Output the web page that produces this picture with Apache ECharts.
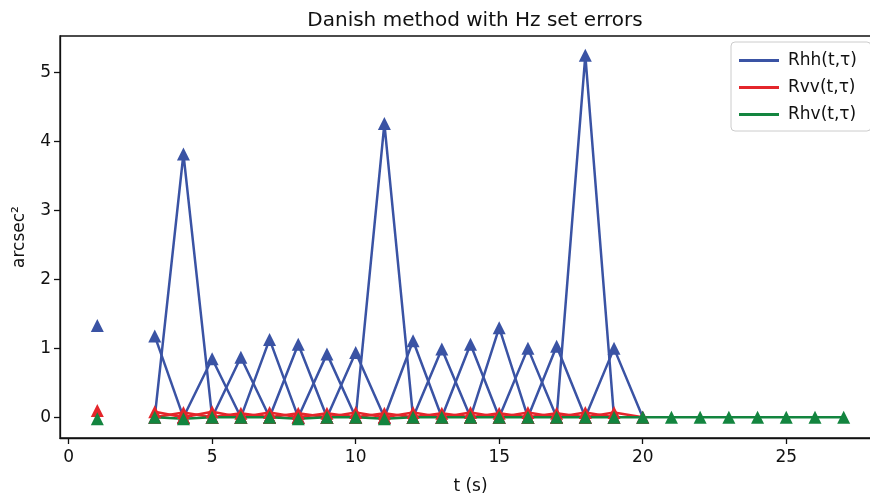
<!DOCTYPE html>
<html>
<head>
<meta charset="utf-8">
<script src="https://cdn.jsdelivr.net/npm/echarts@6/dist/echarts.min.js"></script>
<style>
  html, body { margin: 0; padding: 0; background: #fff; overflow: hidden; }
  /* the original figure is cropped on the right, so the canvas runs past the window */
  #chart { width: 900px; height: 500px; }
</style>
</head>
<body>
<div id="chart"></div>
<script>
// isolated point at t = 1
const loneT = 1;
const loneHH = 1.33;
const loneVV = 0.10;
const loneHV = -0.02;

// spikes: value at t, zero at t-1 and t+1 (the first one has no leading edge)
const peakT = [3, 4, 5, 6, 7, 8, 9, 10, 11, 12, 13, 14, 15, 16, 17, 18, 19];
const rhhPeak = [1.18, 3.82, 0.85, 0.87, 1.13, 1.06, 0.92, 0.94, 4.26, 1.11, 0.99, 1.06, 1.30, 1.00, 1.03, 5.25, 1.00];
const rvvPeak = [0.08, 0.07, 0.08, 0.06, 0.07, 0.06, 0.06, 0.07, 0.06, 0.07, 0.06, 0.07, 0.06, 0.07, 0.06, 0.07, 0.07];

// cross term, continuous line
const hvT = [3, 4, 5, 6, 7, 8, 9, 10, 11, 12, 13, 14, 15, 16, 17, 18, 19, 20, 21, 22, 23, 24, 25, 26, 27];
const rhvVals = [0, -0.02, 0, 0, 0, -0.02, 0, 0, -0.02, 0, 0, 0, 0, 0, 0, 0, 0, 0, 0, 0, 0, 0, 0, 0, 0];

const xTicks = [0, 5, 10, 15, 20, 25];
const yTicks = [0, 1, 2, 3, 4, 5];

const BLUE = '#3a53a4';
const RED = '#e4262b';
const GREEN = '#13853f';
const FONT = 'DejaVu Sans';

function lineSeries(name, color, data) {
  return {
    name: name,
    type: 'line',
    data: data,
    symbol: 'triangle',
    symbolSize: 13,
    showSymbol: true,
    lineStyle: { color: color, width: 2.5 },
    itemStyle: { color: color },
    emphasis: { disabled: true },
    animation: false
  };
}

function spikes(name, color, vals) {
  let out = [];
  for (let i = 0; i < peakT.length; i++) {
    let t = peakT[i];
    let pts = [];
    if (i > 0) pts.push([t - 1, 0]);
    pts.push([t, vals[i]]);
    pts.push([t + 1, 0]);
    out.push(lineSeries(name, color, pts));
  }
  return out;
}

const HH = 'Rhh(t,τ)';
const VV = 'Rvv(t,τ)';
const HV = 'Rhv(t,τ)';

let series = [];
series.push(lineSeries(HH, BLUE, [[loneT, loneHH]]));
series = series.concat(spikes(HH, BLUE, rhhPeak));
series.push(lineSeries(VV, RED, [[loneT, loneVV]]));
series = series.concat(spikes(VV, RED, rvvPeak));
series.push(lineSeries(HV, GREEN, [[loneT, loneHV]]));
series.push(lineSeries(HV, GREEN, hvT.map((t, i) => [t, rhvVals[i]])));

let chart = echarts.init(document.getElementById('chart'), null, { renderer: 'canvas' });

let option = {
  animation: false,
  textStyle: { fontFamily: FONT },
  title: {
    text: 'Danish method with Hz set errors',
    left: 470,
    top: 6,
    textAlign: 'center',
    textStyle: { fontFamily: FONT, fontSize: 20, fontWeight: 'normal', color: '#111' }
  },
  legend: {
    data: [HH, VV, HV],
    orient: 'vertical',
    left: 731,
    top: 42,
    padding: [10, 14, 8, 8],
    itemGap: 10,
    itemWidth: 40,
    itemHeight: 3,
    icon: 'rect',
    backgroundColor: '#fff',
    borderColor: '#cccccc',
    borderWidth: 1,
    borderRadius: 4,
    textStyle: { fontFamily: FONT, fontSize: 17, color: '#111', padding: [0, 0, 0, 4] }
  },
  grid: {
    left: 60,
    top: 36,
    width: 821,
    bottom: 56,
    show: true,
    borderColor: '#111',
    borderWidth: 1.3,
    containLabel: false
  },
  xAxis: {
    type: 'value',
    min: -0.3,
    max: 28.3,
    name: 't (s)',
    nameLocation: 'middle',
    nameGap: 40,
    nameTextStyle: { fontFamily: FONT, fontSize: 17, color: '#111' },
    splitLine: { show: false },
    axisLine: { show: true, onZero: false, lineStyle: { color: '#111', width: 1.3 } },
    axisTick: { show: true, length: 6, customValues: xTicks, lineStyle: { color: '#111', width: 1.3 } },
    axisLabel: { customValues: xTicks, fontFamily: FONT, fontSize: 17, color: '#111', margin: 11 }
  },
  yAxis: {
    type: 'value',
    min: -0.3,
    max: 5.53,
    name: 'arcsec²',
    nameLocation: 'middle',
    nameGap: 32,
    nameRotate: 90,
    nameTextStyle: { fontFamily: FONT, fontSize: 17, color: '#111' },
    splitLine: { show: false },
    axisLine: { show: true, onZero: false, lineStyle: { color: '#111', width: 1.3 } },
    axisTick: { show: true, length: 6, customValues: yTicks, lineStyle: { color: '#111', width: 1.3 } },
    axisLabel: { customValues: yTicks, fontFamily: FONT, fontSize: 17, color: '#111', margin: 9 }
  },
  series: series
};

chart.setOption(option);
</script>
</body>
</html>
